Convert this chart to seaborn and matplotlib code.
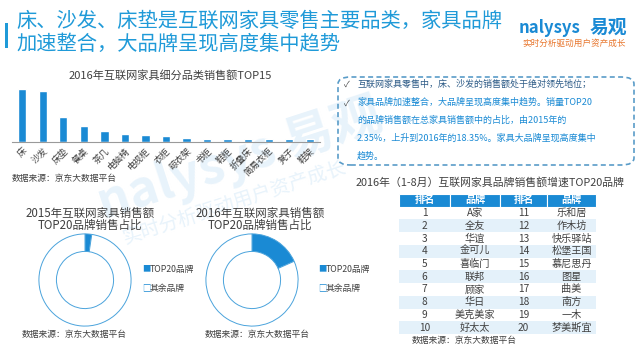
import matplotlib
matplotlib.use("Agg")
import matplotlib.pyplot as plt
from matplotlib.patches import FancyBboxPatch, Rectangle
import seaborn as sns
import pandas as pd

sns.set_theme(style="white")
plt.rcParams['font.family'] = ['Noto Sans CJK SC', 'DejaVu Sans']

# data
categories = ['床', '沙发', '床垫', '餐桌', '茶几', '电脑椅', '电视柜', '衣柜',
              '晾衣架', '书柜', '鞋柜', '折叠床', '简易衣柜', '凳子', '鞋架']
sales = [158, 152, 75, 47, 34, 24, 20, 17, 12, 10, 10, 10, 8, 9, 8]

share_2015 = [2.35, 97.65]
share_2016 = [18.35, 81.65]
share_labels = ['TOP20品牌', '其余品牌']

rank_left = ['1', '2', '3', '4', '5', '6', '7', '8', '9', '10']
brand_left = ['A家', '全友', '华谊', '金可儿', '喜临门', '联邦', '顾家', '华日', '美克美家', '好太太']
rank_right = ['11', '12', '13', '14', '15', '16', '17', '18', '19', '20']
brand_right = ['乐和居', '作木坊', '快乐驿站', '松堡王国', '慕尼思丹', '图星', '曲美', '南方', '一木', '梦美斯宜']
table_header = ['排名', '品牌', '排名', '品牌']

notes = ['互联网家具零售中，床、沙发的销售额处于绝对领先地位；',
         '家具品牌加速整合，大品牌呈现高度集中趋势。销量TOP20\n的品牌销售额在总家具销售额中的占比，由2015年的\n2.35%，上升到2016年的18.35%。家具大品牌呈现高度集中\n趋势。']

BLUE = '#1a8ad4'
TITLE_BLUE = '#1f9ad8'
GREY = '#404040'

W, H = 640, 350
fig = plt.figure(figsize=(6.4, 3.5), dpi=100)
fig.patch.set_facecolor('white')


def px_axes(x0, y0, x1, y1):
    return fig.add_axes([x0 / W, 1 - y1 / H, (x1 - x0) / W, (y1 - y0) / H])


def ftext(x, y, s, **kw):
    return fig.text(x / W, 1 - y / H, s, **kw)


# watermark (behind everything)
ftext(240, 160, 'nalysys 易观', fontsize=36, color='#e8f3fb', rotation=18,
      ha='center', va='center', fontweight='bold', style='italic', zorder=-10)
ftext(235, 203, '实时分析驱动用户资产成长', fontsize=14, color='#e8f3fb', rotation=18,
      ha='center', va='center', zorder=-10)

# header
fig.add_artist(Rectangle((5 / W, 1 - 48 / H), 2.5 / W, 25 / H, transform=fig.transFigure,
                         color=TITLE_BLUE, lw=0))
ftext(16, 21, '床、沙发、床垫是互联网家具零售主要品类，家具品牌', fontsize=14.6,
      color=TITLE_BLUE, va='center', fontweight='light')
ftext(16, 44, '加速整合，大品牌呈现高度集中趋势', fontsize=14.6, color=TITLE_BLUE,
      va='center', fontweight='light')
ftext(549, 28, 'nalysys', fontsize=12, color=BLUE, style='italic', va='center', ha='center',
      fontweight='bold')
ftext(608, 27, '易观', fontsize=13.5, color=BLUE, va='center', ha='center', fontweight='bold')
ftext(574, 43, '实时分析驱动用户资产成长', fontsize=6.2, color='#e8772e', va='center', ha='center')

# bar chart
ax = px_axes(12, 88, 320, 142)
df = pd.DataFrame({'cat': categories, 'val': sales})
sns.barplot(data=df, x='cat', y='val', color=BLUE, width=0.4, saturation=1, ax=ax)
ax.set_ylim(0, 160)
ax.set_xlim(-0.5, 14.5)
ax.set_facecolor('none')
for s in ['top', 'right', 'left']:
    ax.spines[s].set_visible(False)
ax.spines['bottom'].set_color('#9a9a9a')
ax.spines['bottom'].set_linewidth(0.8)
ax.set_yticks([])
ax.set_xlabel('')
ax.set_ylabel('')
ax.tick_params(axis='x', length=0, pad=3)
plt.setp(ax.get_xticklabels(), rotation=45, ha='right', rotation_mode='anchor',
         fontsize=6.5, color=GREY)
ftext(170, 75, '2016年互联网家具细分品类销售额TOP15', fontsize=8, color=GREY,
      ha='center', va='center')
ftext(12, 178, '数据来源：京东大数据平台', fontsize=6.3, color=GREY, va='center')

# notes box
box = FancyBboxPatch((338 / W, 1 - 165 / H), 296 / W, 88 / H,
                     boxstyle='round,pad=0,rounding_size=0.02', transform=fig.transFigure,
                     fill=False, edgecolor='#5a9cc8', linewidth=1.2, linestyle=(0, (3, 2)))
fig.add_artist(box)
ftext(344, 84, '✓', fontsize=6, color=GREY, va='center')
ftext(357, 84, notes[0], fontsize=6.5, color='#2c5a86', va='center')
ftext(344, 103, '✓', fontsize=6, color=GREY, va='center')
ftext(357, 97.5, notes[1], fontsize=6.5, color=BLUE, va='top', linespacing=2.2)

# donuts
def donut(cx, title_x, share, legend_x):
    a = px_axes(cx - 50, 230, cx + 50, 330)
    a.pie(share, colors=[BLUE, 'white'], startangle=90, counterclock=False, radius=1,
          wedgeprops=dict(width=0.38, edgecolor='#4aa3dc', linewidth=0.7))
    a.set_xlim(-1.085, 1.085)
    a.set_ylim(-1.085, 1.085)
    a.set_aspect('equal')
    ftext(title_x, 213, title_lines[0], fontsize=8.3, color=GREY, ha='center', va='center')
    ftext(title_x, 225, title_lines[1], fontsize=8.3, color=GREY, ha='center', va='center')
    ftext(legend_x, 269, '■', fontsize=6, color=BLUE, va='center')
    ftext(legend_x + 8, 269, share_labels[0], fontsize=6.3, color=GREY, va='center')
    ftext(legend_x, 288, '□', fontsize=6, color=BLUE, va='center')
    ftext(legend_x + 8, 288, share_labels[1], fontsize=6.3, color=GREY, va='center')


title_lines = ['2015年互联网家具销售额', 'TOP20品牌销售占比']
donut(85, 90, share_2015, 142)
title_lines = ['2016年互联网家具销售额', 'TOP20品牌销售占比']
donut(252, 260, share_2016, 318)
ftext(22, 335, '数据来源：京东大数据平台', fontsize=6.3, color=GREY, va='center')
ftext(205, 335, '数据来源：京东大数据平台', fontsize=6.3, color=GREY, va='center')

# table
ftext(490, 182, '2016年（1-8月）互联网家具品牌销售额增速TOP20品牌', fontsize=7.8,
      color=GREY, ha='center', va='center')
tax = px_axes(399, 194, 596, 334)
tax.axis('off')
rows = [[rank_left[i], brand_left[i], rank_right[i], brand_right[i]] for i in range(10)]
widths = [51 / 197, 50 / 197, 47 / 197, 49 / 197]
tbl = tax.table(cellText=rows, colLabels=table_header, colWidths=widths,
                bbox=[0, 0, 1, 1], cellLoc='center')
tbl.auto_set_font_size(False)
for (r, c), cell in tbl.get_celld().items():
    cell.set_fontsize(7.3)
    if r == 0:
        cell.set_facecolor(BLUE)
        cell.set_edgecolor('white')
        cell.set_linewidth(0.8)
        cell.get_text().set_color('white')
        cell.get_text().set_fontweight('bold')
    else:
        fc = '#e4f1fa' if r % 2 == 0 else 'white'
        cell.set_facecolor(fc)
        cell.set_edgecolor(fc)
        cell.set_linewidth(0)
        cell.get_text().set_color(GREY)
ftext(412, 341, '数据来源：京东大数据平台', fontsize=6.3, color=GREY, va='center')

fig.savefig('out.png', dpi=100, facecolor='white')
